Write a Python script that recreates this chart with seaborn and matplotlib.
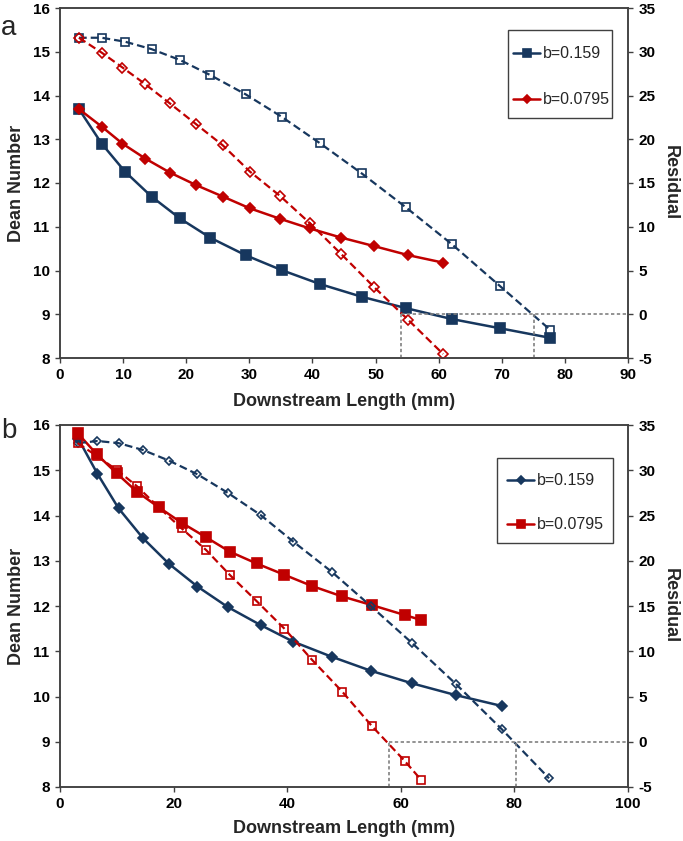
import matplotlib
matplotlib.use("Agg")
import matplotlib.pyplot as plt
from matplotlib.patches import Rectangle
import numpy as np
import seaborn as sns

sns.set_theme(style="white")
plt.rcParams['font.family'] = ['Liberation Sans', 'DejaVu Sans']

NAVY = "#17375E"
RED = "#C00000"
REF_GREY = "#808080"
AXIS_GREY = "#404040"

# ---- panel a ----
a_x_159 = [3.0, 6.6, 10.3, 14.5, 19.0, 23.8, 29.4, 35.1, 41.2, 47.8, 54.8, 62.1, 69.7, 77.7]
a_dean_159 = [13.69, 12.9, 12.26, 11.69, 11.19, 10.75, 10.35, 10.01, 9.69, 9.4, 9.14, 8.89, 8.68, 8.46]
a_res_159 = [31.6, 31.6, 31.15, 30.3, 29.06, 27.34, 25.14, 22.58, 19.54, 16.1, 12.22, 8.0, 3.23, -1.8]

a_x_0795 = [3.0, 6.6, 9.9, 13.5, 17.4, 21.6, 25.8, 30.1, 34.9, 39.6, 44.6, 49.7, 55.2, 60.7]
a_dean_0795 = [13.69, 13.29, 12.9, 12.56, 12.24, 11.95, 11.69, 11.42, 11.18, 10.96, 10.75, 10.56, 10.35, 10.18]
a_res_0795 = [31.6, 29.9, 28.2, 26.3, 24.1, 21.7, 19.3, 16.3, 13.5, 10.4, 6.85, 3.15, -0.66, -4.54]

a_roots = [54.1, 75.1]

# ---- panel b ----
b_x_159 = [3.2, 6.6, 10.3, 14.6, 19.2, 24.2, 29.5, 35.3, 41.1, 47.8, 54.7, 62.0, 69.7, 77.8]
b_dean_159 = [15.7, 14.92, 14.16, 13.5, 12.93, 12.43, 11.98, 11.58, 11.21, 10.88, 10.57, 10.29, 10.03, 9.79]
b_xres_159 = [3.2, 6.6, 10.3, 14.6, 19.2, 24.2, 29.5, 35.3, 41.1, 47.8, 54.7, 62.0, 69.7, 77.8, 86.1]
b_res_159 = [33.0, 33.23, 33.0, 32.24, 31.06, 29.55, 27.52, 25.06, 22.1, 18.8, 15.0, 10.9, 6.38, 1.37, -4.04]

b_x_0795 = [3.1, 6.5, 10.0, 13.5, 17.4, 21.4, 25.7, 29.9, 34.6, 39.5, 44.4, 49.7, 54.9, 60.7, 63.6]
b_dean_0795 = [15.82, 15.35, 14.93, 14.53, 14.18, 13.84, 13.52, 13.2, 12.94, 12.69, 12.44, 12.21, 12.02, 11.8, 11.69]
b_res_0795 = [33.0, 31.57, 30.03, 28.26, 25.9, 23.58, 21.2, 18.43, 15.55, 12.5, 9.03, 5.53, 1.74, -2.13, -4.23]

b_roots = [57.9, 80.2]

labels = ["b=0.159", "b=0.0795"]


def line(ax, x, y, color, marker, ms, filled, dashed, lw):
    sns.lineplot(x=x, y=y, ax=ax, color=color, marker=marker, markersize=ms,
                 markerfacecolor=color if filled else "none", markeredgecolor=color,
                 markeredgewidth=1.2, linewidth=lw,
                 linestyle=(0, (3.5, 1.8)) if dashed else "-",
                 sort=False, estimator=None)
    return ax.lines[-1]


def style_axes(ax, ax2, xmax, xstep):
    ax.set_xlim(0, xmax)
    ax.set_ylim(8, 16)
    ax2.set_ylim(-5, 35)
    xt = np.arange(0, xmax + 1, xstep)
    yt = np.arange(8, 17, 1)
    rt = np.arange(-5, 36, 5)
    ax.set_xticks(xt, [f"{v:g}" for v in xt], fontweight="bold")
    ax.set_yticks(yt, [f"{v:g}" for v in yt], fontweight="bold")
    ax2.set_yticks(rt, [f"{v:g}" for v in rt], fontweight="bold")
    for a in (ax, ax2):
        for sp in a.spines.values():
            sp.set_visible(True)
            sp.set_color(AXIS_GREY)
            sp.set_linewidth(1.1)
        a.tick_params(direction="out", length=3.5, width=1, color=AXIS_GREY,
                      labelsize=11, pad=4, labelcolor="black")
    ax.tick_params(axis="x", bottom=True)
    ax.tick_params(axis="y", left=True)
    ax2.tick_params(axis="y", right=True)
    ax.set_xlabel("Downstream Length (mm)", fontsize=13, fontweight="bold")
    ax.set_ylabel("Dean Number", fontsize=13, fontweight="bold")
    ax2.set_ylabel("Residual", fontsize=13, fontweight="bold", rotation=270)
    ax.yaxis.set_label_coords(-0.062, 0.5)
    ax2.yaxis.set_label_coords(1.089, 0.5)
    ax.grid(False)
    ax2.grid(False)


def ref_lines(ax2, roots, xmax):
    ax2.vlines(roots, -5, 0, colors=REF_GREY, linestyles=(0, (2, 1.5)), linewidth=1.2)
    ax2.hlines(0, min(roots), xmax, colors=REF_GREY, linestyles=(0, (2, 1.5)), linewidth=1.2)


def legend_box(ax2, handles, anchor, spacing, box):
    ax2.legend(handles, labels, loc="upper left", bbox_to_anchor=anchor,
               borderaxespad=0, borderpad=0, frameon=False, fontsize=11.5,
               handlelength=1.7, handletextpad=0.2, labelspacing=spacing,
               markerscale=0.8)
    x0, y0, x1, y1 = box
    ax2.add_patch(Rectangle((x0, y0), x1 - x0, y1 - y0, transform=ax2.transAxes,
                            fill=False, edgecolor=AXIS_GREY, linewidth=1.0,
                            clip_on=False))


fig = plt.figure(figsize=(6.83, 8.41), dpi=100)
W, H = 683, 841

# ---- panel a ----
axa = fig.add_axes([60 / W, 1 - 358 / H, 568 / W, 350 / H])
axa2 = axa.twinx()
ha = line(axa, a_x_159, a_dean_159, NAVY, "s", 6.5, True, False, 1.8)
hb = line(axa, a_x_0795, a_dean_0795, RED, "D", 5.2, True, False, 1.8)
line(axa2, a_x_159, a_res_159, NAVY, "s", 6.2, False, True, 1.6)
line(axa2, a_x_0795, a_res_0795, RED, "D", 5.0, False, True, 1.6)
ref_lines(axa2, a_roots, 90)
style_axes(axa, axa2, 90, 10)
axa.xaxis.set_label_coords(0.5, -0.1)
legend_box(axa2, [ha, hb], (0.7975, 0.8908), 1.94, (0.7887, 0.6857, 0.9718, 0.9371))

# ---- panel b ----
axb = fig.add_axes([60 / W, 1 - 787 / H, 568 / W, 362 / H])
axb2 = axb.twinx()
hc = line(axb, b_x_159, b_dean_159, NAVY, "D", 5.2, True, False, 1.8)
hd = line(axb, b_x_0795, b_dean_0795, RED, "s", 6.8, True, False, 1.8)
line(axb2, b_xres_159, b_res_159, NAVY, "D", 4.4, False, True, 1.6)
line(axb2, b_x_0795, b_res_0795, RED, "s", 6.0, False, True, 1.6)
ref_lines(axb2, b_roots, 100)
style_axes(axb, axb2, 100, 20)
axb.xaxis.set_label_coords(0.5, -0.092)
legend_box(axb2, [hc, hd], (0.787, 0.8668), 1.81, (0.7694, 0.6749, 0.9736, 0.9097))

fig.text(0.002, 1 - 35 / H, "a", fontsize=20, va="baseline", ha="left")
fig.text(0.002, 1 - 438 / H, "b", fontsize=20, va="baseline", ha="left")

fig.savefig("out.png", dpi=100)
